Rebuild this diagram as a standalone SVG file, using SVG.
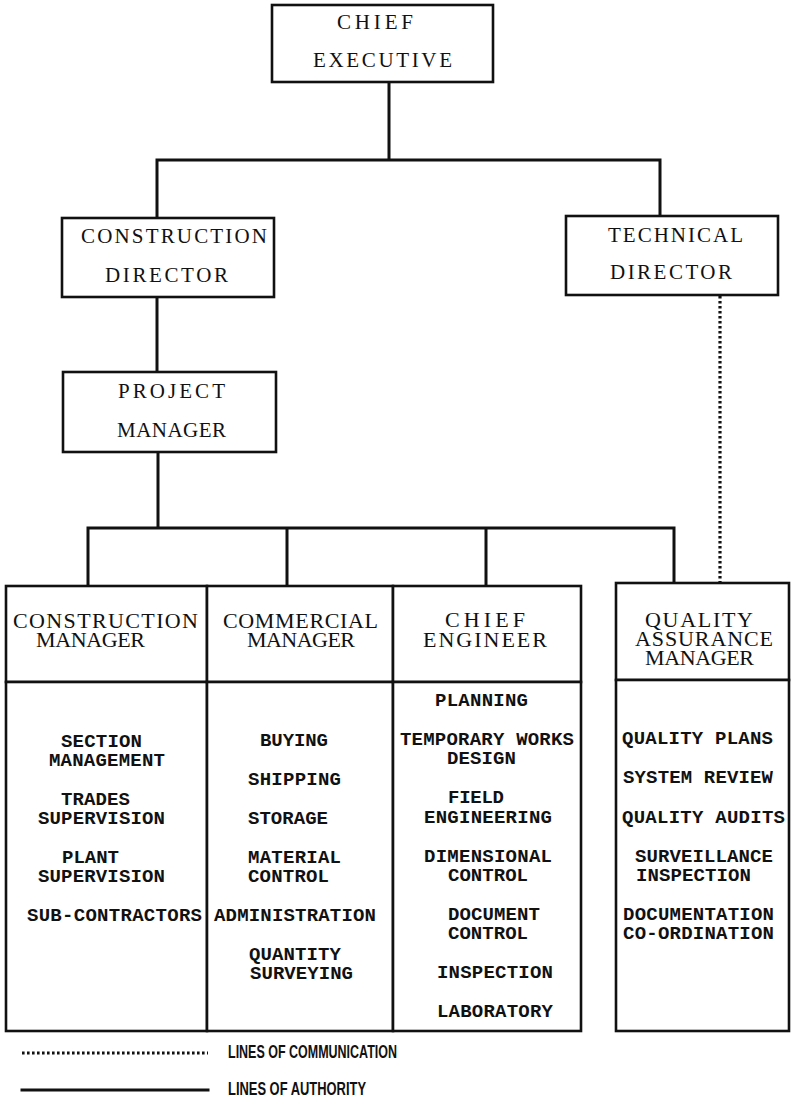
<svg xmlns="http://www.w3.org/2000/svg" width="791" height="1097" viewBox="0 0 791 1097">
  <style>
    .box { fill: #fff; stroke: #111; stroke-width: 2.6; }
    .auth { fill: none; stroke: #111; stroke-width: 3; stroke-linecap: square; }
    .comm { fill: none; stroke: #111; stroke-width: 3.2; stroke-dasharray: 2.6 2.4; }
    .title { font-family: "Liberation Serif", "DejaVu Serif", serif; font-size: 21px; fill: #111; }
    .head { font-family: "Liberation Serif", "DejaVu Serif", serif; font-size: 22px; fill: #111; }
    .item { font-family: "Liberation Mono", "DejaVu Sans Mono", monospace; font-size: 19px; font-weight: bold; fill: #111; }
    .legend { font-family: "Liberation Sans", Arial, sans-serif; font-size: 19px; font-weight: bold; fill: #111; }
  </style>

  <!-- connectors -->
  <g id="connectors">
    <path class="auth" d="M389 82 V160 M157 160 H660 M157 160 V218 M660 160 V216"/>
    <path class="auth" d="M157 297 V372"/>
    <path class="auth" d="M158 452 V528 M88 528 H674 M88 528 V586 M287 528 V586 M486 528 V586 M674 528 V583"/>
    <path class="comm" d="M720 296 V582"/>
  </g>

  <!-- top of the organisation -->
  <g id="chief-executive">
    <rect class="box" x="272" y="5" width="221" height="77"/>
    <text class="title" x="337" y="29" textLength="76">CHIEF</text>
    <text class="title" x="313" y="67" textLength="139">EXECUTIVE</text>
  </g>

  <g id="construction-director">
    <rect class="box" x="62" y="218" width="212" height="79"/>
    <text class="title" x="81" y="243" textLength="186">CONSTRUCTION</text>
    <text class="title" x="105" y="282" textLength="123">DIRECTOR</text>
  </g>

  <g id="technical-director">
    <rect class="box" x="566" y="216" width="212" height="79"/>
    <text class="title" x="608" y="242" textLength="135">TECHNICAL</text>
    <text class="title" x="610" y="279" textLength="122">DIRECTOR</text>
  </g>

  <g id="project-manager">
    <rect class="box" x="63" y="372" width="213" height="80"/>
    <text class="title" x="118" y="398" textLength="107">PROJECT</text>
    <text class="title" x="117" y="437" textLength="109">MANAGER</text>
  </g>

  <!-- departments -->
  <g id="construction-manager">
    <rect class="box" x="6" y="586" width="201" height="96"/>
    <rect class="box" x="6" y="682" width="201" height="349"/>
    <text class="head" x="13" y="628" textLength="185">CONSTRUCTION</text>
    <text class="head" x="36" y="647" textLength="109">MANAGER</text>
    <text class="item" x="61" y="747" textLength="81">SECTION</text>
    <text class="item" x="49" y="766" textLength="116">MANAGEMENT</text>
    <text class="item" x="61" y="805" textLength="69">TRADES</text>
    <text class="item" x="38" y="824" textLength="127">SUPERVISION</text>
    <text class="item" x="62" y="863" textLength="57">PLANT</text>
    <text class="item" x="38" y="882" textLength="127">SUPERVISION</text>
    <text class="item" x="27" y="921" textLength="175">SUB-CONTRACTORS</text>
  </g>

  <g id="commercial-manager">
    <rect class="box" x="207" y="586" width="186" height="96"/>
    <rect class="box" x="207" y="682" width="186" height="349"/>
    <text class="head" x="223" y="628" textLength="155">COMMERCIAL</text>
    <text class="head" x="247" y="647" textLength="108">MANAGER</text>
    <text class="item" x="260" y="746" textLength="68">BUYING</text>
    <text class="item" x="248" y="785" textLength="93">SHIPPING</text>
    <text class="item" x="248" y="824" textLength="80">STORAGE</text>
    <text class="item" x="248" y="863" textLength="93">MATERIAL</text>
    <text class="item" x="248" y="882" textLength="81">CONTROL</text>
    <text class="item" x="214" y="921" textLength="162">ADMINISTRATION</text>
    <text class="item" x="249" y="960" textLength="92">QUANTITY</text>
    <text class="item" x="250" y="979" textLength="103">SURVEYING</text>
  </g>

  <g id="chief-engineer">
    <rect class="box" x="393" y="586" width="188" height="96"/>
    <rect class="box" x="393" y="682" width="188" height="349"/>
    <text class="head" x="445" y="627" textLength="80">CHIEF</text>
    <text class="head" x="423" y="647" textLength="124">ENGINEER</text>
    <text class="item" x="435" y="706" textLength="93">PLANNING</text>
    <text class="item" x="400" y="745" textLength="174">TEMPORARY WORKS</text>
    <text class="item" x="447" y="764" textLength="69">DESIGN</text>
    <text class="item" x="448" y="803" textLength="56">FIELD</text>
    <text class="item" x="424" y="823" textLength="128">ENGINEERING</text>
    <text class="item" x="424" y="862" textLength="128">DIMENSIONAL</text>
    <text class="item" x="448" y="881" textLength="80">CONTROL</text>
    <text class="item" x="448" y="920" textLength="92">DOCUMENT</text>
    <text class="item" x="448" y="939" textLength="80">CONTROL</text>
    <text class="item" x="437" y="978" textLength="116">INSPECTION</text>
    <text class="item" x="437" y="1017" textLength="116">LABORATORY</text>
  </g>

  <g id="quality-assurance-manager">
    <rect class="box" x="616" y="583" width="173" height="97"/>
    <rect class="box" x="616" y="680" width="173" height="351"/>
    <text class="head" x="645" y="627" textLength="108">QUALITY</text>
    <text class="head" x="635" y="646" textLength="138">ASSURANCE</text>
    <text class="head" x="645" y="665" textLength="109">MANAGER</text>
    <text class="item" x="622" y="744" textLength="151">QUALITY PLANS</text>
    <text class="item" x="623" y="783" textLength="150">SYSTEM REVIEW</text>
    <text class="item" x="622" y="823" textLength="163">QUALITY AUDITS</text>
    <text class="item" x="635" y="862" textLength="138">SURVEILLANCE</text>
    <text class="item" x="636" y="881" textLength="115">INSPECTION</text>
    <text class="item" x="623" y="920" textLength="151">DOCUMENTATION</text>
    <text class="item" x="623" y="939" textLength="151">CO-ORDINATION</text>
  </g>

  <!-- key -->
  <g id="legend">
    <path class="comm" d="M22 1053 H208"/>
    <text class="legend" x="228" y="1058" textLength="169" lengthAdjust="spacingAndGlyphs">LINES OF COMMUNICATION</text>
    <path class="auth" d="M22 1090 H208" stroke-linecap="butt"/>
    <text class="legend" x="228" y="1095" textLength="138" lengthAdjust="spacingAndGlyphs">LINES OF AUTHORITY</text>
  </g>
</svg>
